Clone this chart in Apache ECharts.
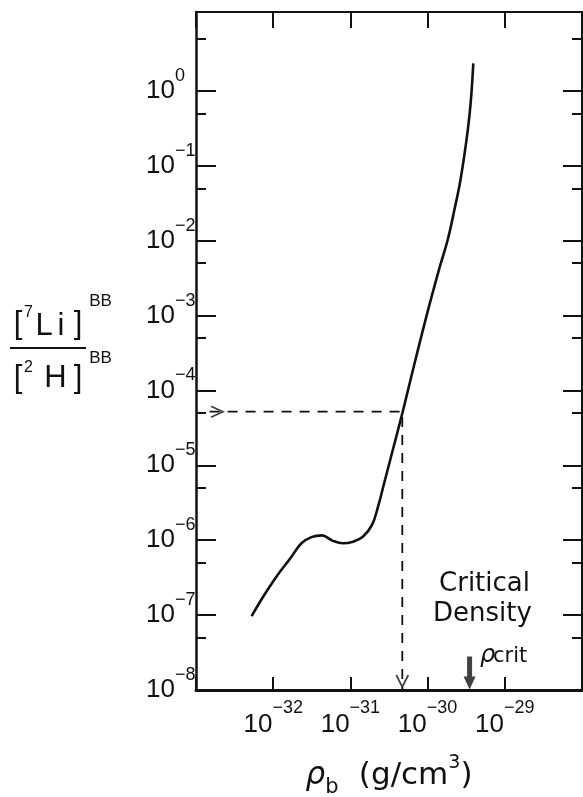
<!DOCTYPE html>
<html><head><meta charset="utf-8">
<script src="https://cdn.jsdelivr.net/npm/echarts@6/dist/echarts.min.js"></script>
<style>html,body{margin:0;padding:0;background:#fff}#c{width:583px;height:797px}</style>
</head><body><div id="c"></div>
<script>
// Baryon density (g/cm^3) along the curve
const rhoB = [5.25e-33, 7.41e-33, 1.10e-32, 1.64e-32, 2.32e-32, 3.13e-32, 4.25e-32, 5.94e-32,
  8.0e-32, 1.08e-31, 1.45e-31, 1.905e-31, 2.28e-31, 2.74e-31, 3.54e-31, 4.76e-31, 6.0e-31,
  9.38e-31, 1.44e-30, 1.82e-30, 2.22e-30, 2.71e-30, 3.47e-30, 3.91e-30];
// [7Li]/[2H] big-bang ratio
const ratio = [9.7e-8, 1.76e-7, 3.26e-7, 5.6e-7, 9.1e-7, 1.10e-6, 1.16e-6, 9.8e-7,
  9.1e-7, 9.55e-7, 1.11e-6, 1.6e-6, 2.8e-6, 5.8e-6, 1.6e-5, 5.2e-5, 1.38e-4,
  8.7e-4, 4.49e-3, 1.02e-2, 2.56e-2, 7.13e-2, 0.451, 2.33];
const xLabelExponents = [-32, -31, -30, -29];
const yMajorValues = [1e-8, 1e-7, 1e-6, 1e-5, 1e-4, 1e-3, 1e-2, 1e-1, 1];
const yMinorValues = [5e-8, 5e-7, 5e-6, 5e-5, 5e-4, 5e-3, 5e-2, 5e-1, 5];
const xMinRho = 1e-33, xMaxRho = 1e-28, yMin = 1e-8, yMax = 11.3;
// Dashed read-off lines
const crossX = 4.7e-31, crossY = 5.2e-5, dashStartX = 1.5e-33;
// Critical density marker
const rhoCrit = 3.5e-30;

// the chart works in units of 1e-33 g/cm^3 (avoids tiny-number rounding in tick code)
const RHO_UNIT = 1e-33;
const X = v => v / RHO_UNIT;

const INK = '#111';
function supText(e) { return e < 0 ? '\u2212' + (-e) : String(e); }
function yLabel(v) {
  const e = Math.round(Math.log10(v));
  return '{b|10}{s|' + supText(e) + '}';
}
function xLabel(v) {
  const e = Math.round(Math.log10(v * RHO_UNIT));
  if (xLabelExponents.indexOf(e) < 0) return '';
  return '{b|10}{s|' + supText(e) + '}';
}
const FONT = '"Liberation Sans", Arial, sans-serif';
const richY = {
  b: { fontSize: 26, fontFamily: FONT, color: INK, lineHeight: 48, verticalAlign: 'middle' },
  s: { fontSize: 18, fontFamily: FONT, color: INK, lineHeight: 18, verticalAlign: 'top' }
};
const richX = {
  b: { fontSize: 26, fontFamily: FONT, color: INK, lineHeight: 52, verticalAlign: 'middle' },
  s: { fontSize: 18, fontFamily: FONT, color: INK, lineHeight: 18, verticalAlign: 'top' }
};

const chart = echarts.init(document.getElementById('c'), null, { renderer: 'canvas' });

function txt(text, x, y, size, opts) {
  opts = opts || {};
  return {
    type: 'text', x: x, y: y, silent: true,
    style: {
      text: text, fill: INK,
      font: (opts.italic ? 'italic ' : '') + size + 'px ' + (opts.family || FONT),
      textAlign: opts.align || 'center', align: opts.align || 'center',
      textVerticalAlign: 'middle', verticalAlign: 'middle'
    }
  };
}
const DV = '"DejaVu Sans", sans-serif';

const option = {
  animation: false,
  backgroundColor: '#fff',
  grid: { left: 196, right: 1, top: 12, bottom: 107, containLabel: false, outerBoundsMode: 'none' },
  xAxis: [
    {
      type: 'log', min: X(xMinRho), max: X(xMaxRho), position: 'bottom',
      axisLine: { lineStyle: { color: INK, width: 3 } },
      axisTick: { inside: true, length: 13, lineStyle: { color: INK, width: 2 } },
      axisLabel: { margin: 9, formatter: xLabel, rich: richX, showMinLabel: true, showMaxLabel: true },
      splitLine: { show: false }, minorTick: { show: false },
      name: '{r|\u03C1}{sub|b}{sp|  }{n|(g/cm}{sup|3}{n|)}',
      nameLocation: 'middle', nameGap: 64,
      nameTextStyle: {
        rich: {
          r: { fontSize: 31, fontStyle: 'italic', fontFamily: DV, color: INK, lineHeight: 44, verticalAlign: 'middle' },
          sub: { fontSize: 21, fontFamily: DV, color: INK, lineHeight: 20, verticalAlign: 'bottom' },
          sp: { fontSize: 32, fontFamily: DV, lineHeight: 44 },
          n: { fontSize: 31, fontFamily: DV, color: INK, lineHeight: 44, verticalAlign: 'middle' },
          sup: { fontSize: 19, fontFamily: DV, color: INK, lineHeight: 24, verticalAlign: 'top' }
        }
      }
    },
    {
      type: 'log', min: X(xMinRho), max: X(xMaxRho), position: 'top',
      axisLine: { lineStyle: { color: INK, width: 2 } },
      axisTick: { inside: true, length: 16, lineStyle: { color: INK, width: 2 } },
      axisLabel: { show: false }, splitLine: { show: false }
    }
  ],
  yAxis: [
    {
      type: 'log', min: yMin, max: yMax, position: 'left',
      axisLine: { lineStyle: { color: INK, width: 2.5 } },
      axisTick: { inside: true, length: 20, customValues: yMajorValues, lineStyle: { color: INK, width: 2 } },
      axisLabel: { customValues: yMajorValues, margin: 50, align: 'left', formatter: yLabel, rich: richY },
      splitLine: { show: false }
    },
    {
      type: 'log', min: yMin, max: yMax, position: 'left',
      axisLine: { show: false },
      axisTick: { inside: true, length: 10, customValues: yMinorValues, lineStyle: { color: INK, width: 2 } },
      axisLabel: { show: false }, splitLine: { show: false }
    },
    {
      type: 'log', min: yMin, max: yMax, position: 'right',
      axisLine: { lineStyle: { color: INK, width: 2 } },
      axisTick: { inside: true, length: 19, customValues: yMajorValues, lineStyle: { color: INK, width: 2 } },
      axisLabel: { show: false }, splitLine: { show: false }
    },
    {
      type: 'log', min: yMin, max: yMax, position: 'right',
      axisLine: { show: false },
      axisTick: { inside: true, length: 10, customValues: yMinorValues, lineStyle: { color: INK, width: 2 } },
      axisLabel: { show: false }, splitLine: { show: false }
    }
  ],
  series: [
    {
      type: 'line', name: 'Li/H', xAxisIndex: 0, yAxisIndex: 0,
      data: rhoB.map((x, i) => [X(x), ratio[i]]),
      smooth: 0.4, symbol: 'none', silent: true,
      lineStyle: { color: INK, width: 2.6 }
    },
    {
      type: 'line', name: 'readoff', xAxisIndex: 0, yAxisIndex: 0,
      data: [[X(dashStartX), crossY], [X(crossX), crossY], [X(crossX), yMin]],
      symbol: 'none', silent: true,
      lineStyle: { color: INK, width: 1.8, type: [10, 8] }
    },
    {
      type: 'scatter', name: 'arrows', xAxisIndex: 0, yAxisIndex: 0, clip: false, silent: true,
      itemStyle: { color: 'rgba(0,0,0,0)', borderColor: INK, borderWidth: 1.7 },
      data: [
        { value: [X(xMinRho), crossY], symbol: 'path://M0,0L10,6L0,12', symbolSize: [12, 11], symbolOffset: [21, 0] },
        { value: [X(crossX), yMin], symbol: 'path://M0,0L6,10L12,0', symbolSize: [12, 12], symbolOffset: [0, -9] }
      ]
    },
    {
      type: 'scatter', name: 'rhoCrit', xAxisIndex: 0, yAxisIndex: 0, clip: false, silent: true,
      symbol: 'path://M3.5,0L8.5,0L8.5,20L12,20L6,33L0,20L3.5,20Z', symbolSize: [12, 33], symbolOffset: [0, -17],
      itemStyle: { color: INK },
      data: [[X(rhoCrit), yMin]]
    }
  ],
  graphic: [
    // y-axis title: [7Li]^BB / [2H]^BB
    txt('[', 18, 324, 31), txt('L', 44, 326, 31), txt('i', 61, 326, 31), txt(']', 78, 324, 31),
    txt('7', 28.5, 312.5, 16), txt('BB', 100.5, 301, 17),
    { type: 'line', silent: true, shape: { x1: 10, y1: 348, x2: 86, y2: 348 }, style: { stroke: INK, lineWidth: 2 } },
    txt('[', 18, 378, 31), txt('H', 55.5, 378, 31), txt(']', 78, 378, 31),
    txt('2', 28.5, 367.5, 16), txt('BB', 100.5, 358.5, 17),
    // annotations
    txt('Critical', 484.5, 584, 26, { family: DV }),
    txt('Density', 482.5, 614, 26, { family: DV }),
    txt('\u03C1', 480, 656, 24, { family: DV, italic: true, align: 'left' }),
    txt('crit', 493, 657, 21, { family: DV, align: 'left' })
  ]
};
chart.setOption(option);
</script></body></html>
